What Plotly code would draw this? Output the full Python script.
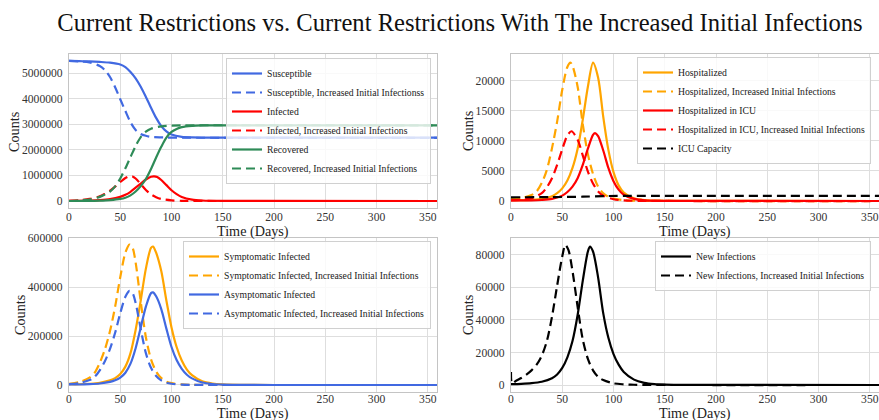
import plotly.graph_objects as go

# ---------------- data ----------------
TITLE = "Current Restrictions vs. Current Restrictions With The Increased Initial Infections"
X_TITLE = "Time (Days)"
Y_TITLE = "Counts"

# Panel 1: S, I, R (millions)
days_S1 = [0, 10, 20, 30, 40, 50, 55, 60, 65, 70, 75, 80, 85, 90, 95, 100, 110, 120, 150, 359]
S1 = [5.48, 5.47, 5.46, 5.44, 5.41, 5.34, 5.24, 5.05, 4.80, 4.47, 4.07, 3.65, 3.25, 2.93, 2.72, 2.60, 2.51, 2.49, 2.48, 2.48]
days_S2 = [0, 10, 20, 30, 35, 40, 45, 50, 55, 60, 65, 70, 75, 80, 90, 100, 359]
S2 = [5.48, 5.46, 5.42, 5.28, 5.12, 4.85, 4.45, 3.98, 3.52, 3.08, 2.78, 2.62, 2.55, 2.51, 2.49, 2.48, 2.47]
days_I1 = [0, 20, 30, 40, 50, 55, 60, 65, 70, 75, 80, 83, 86, 90, 95, 100, 105, 110, 120, 130, 150, 359]
I1 = [0.01, 0.02, 0.035, 0.07, 0.16, 0.24, 0.36, 0.52, 0.68, 0.84, 0.95, 0.965, 0.94, 0.82, 0.62, 0.42, 0.27, 0.16, 0.055, 0.02, 0.003, 0.0]
days_I2 = [0, 10, 20, 30, 35, 40, 45, 50, 55, 59, 62, 65, 70, 75, 80, 85, 90, 100, 110, 120, 359]
I2 = [0.01, 0.03, 0.08, 0.18, 0.28, 0.40, 0.56, 0.74, 0.90, 0.97, 0.96, 0.88, 0.66, 0.43, 0.26, 0.15, 0.08, 0.025, 0.008, 0.003, 0.0]
days_R1 = [0, 20, 30, 40, 50, 55, 60, 65, 70, 75, 80, 85, 90, 95, 100, 105, 110, 120, 130, 150, 359]
R1 = [0.0, 0.005, 0.015, 0.035, 0.08, 0.13, 0.22, 0.37, 0.58, 0.86, 1.25, 1.70, 2.12, 2.48, 2.70, 2.82, 2.89, 2.94, 2.955, 2.96, 2.96]
days_R2 = [0, 10, 20, 30, 35, 40, 45, 50, 55, 60, 65, 70, 75, 80, 90, 100, 120, 359]
R2 = [0.0, 0.02, 0.06, 0.16, 0.25, 0.37, 0.57, 0.88, 1.28, 1.72, 2.15, 2.50, 2.71, 2.83, 2.92, 2.95, 2.96, 2.96]

# Panel 2: hospital
days_H1 = [0, 10, 20, 30, 40, 45, 50, 55, 60, 65, 70, 75, 80, 85, 90, 95, 100, 105, 110, 120, 130, 150, 359]
H1 = [200, 150, 200, 350, 800, 1300, 2100, 3400, 5500, 8700, 13500, 19000, 23000, 20500, 14000, 8500, 4800, 2600, 1400, 450, 150, 30, 0]
days_H2 = [0, 10, 20, 25, 30, 35, 40, 45, 50, 55, 58, 60, 65, 70, 75, 80, 85, 90, 95, 100, 110, 120, 150, 359]
H2 = [300, 500, 1000, 1600, 3000, 5200, 8800, 13200, 18500, 22300, 23000, 22500, 19000, 12800, 7800, 4500, 2400, 1300, 700, 400, 150, 50, 10, 0]
days_C1 = [0, 20, 30, 40, 50, 55, 60, 65, 70, 75, 80, 82, 85, 90, 95, 100, 105, 110, 120, 130, 150, 359]
C1 = [100, 100, 170, 350, 900, 1500, 2400, 3800, 6000, 8700, 11000, 11300, 10800, 8400, 5500, 3300, 1900, 1050, 350, 120, 20, 0]
days_C2 = [0, 10, 20, 30, 35, 40, 45, 50, 55, 59, 65, 70, 75, 80, 85, 90, 100, 110, 120, 359]
C2 = [100, 200, 450, 1300, 2300, 3800, 6000, 8600, 10900, 11600, 10200, 7600, 4900, 2900, 1600, 900, 300, 100, 40, 0]
days_CAP = [0, 40, 70, 90, 110, 359]
CAP = [620, 650, 720, 820, 850, 850]

# Panel 3: symptomatic / asymptomatic
days_Y1 = [0, 10, 20, 30, 40, 45, 50, 55, 60, 65, 70, 75, 80, 82, 85, 90, 95, 100, 105, 110, 115, 120, 130, 140, 150, 175, 200, 359]
Y1 = [3000, 3000, 5000, 9000, 19000, 28000, 45000, 75000, 130000, 225000, 345000, 475000, 560000, 565000, 540000, 465000, 345000, 235000, 155000, 100000, 63000, 40000, 15000, 6000, 2500, 300, 50, 0]
days_Y2 = [0, 10, 20, 25, 30, 35, 40, 45, 50, 55, 59, 62, 65, 70, 75, 80, 85, 90, 95, 100, 110, 120, 130, 359]
Y2 = [5000, 12000, 30000, 50000, 90000, 145000, 220000, 320000, 440000, 540000, 573000, 560000, 500000, 340000, 195000, 105000, 55000, 28000, 14000, 7500, 2500, 800, 250, 0]
days_A1 = [0, 10, 20, 30, 40, 45, 50, 55, 60, 65, 70, 75, 80, 82, 85, 90, 95, 100, 105, 110, 115, 120, 130, 140, 150, 175, 200, 359]
A1 = [2000, 2000, 3300, 6000, 12500, 19000, 30000, 50000, 87000, 150000, 235000, 320000, 375000, 378000, 362000, 310000, 230000, 155000, 102000, 66000, 42000, 27000, 10000, 4000, 1700, 200, 30, 0]
days_A2 = [0, 10, 20, 25, 30, 35, 40, 45, 50, 55, 59, 62, 65, 70, 75, 80, 85, 90, 95, 100, 110, 120, 130, 359]
A2 = [3300, 8000, 20000, 33000, 60000, 97000, 147000, 213000, 293000, 360000, 384000, 375000, 335000, 228000, 130000, 70000, 37000, 19000, 9500, 5000, 1700, 550, 170, 0]

# Panel 4: new infections
days_N1 = [0, 10, 20, 30, 40, 45, 50, 55, 60, 65, 70, 75, 77, 80, 85, 90, 95, 100, 105, 110, 120, 130, 140, 150, 175, 359]
N1 = [500, 700, 1100, 2000, 4200, 6500, 10500, 17000, 27000, 43000, 64000, 82000, 85000, 82000, 66000, 44000, 29000, 19000, 12500, 8000, 3300, 1300, 500, 200, 30, 0]
days_N2 = [0, 1, 5, 10, 15, 20, 25, 30, 35, 40, 45, 50, 53, 56, 60, 65, 70, 75, 80, 85, 90, 100, 110, 120, 150, 359]
N2 = [8000, 1000, 2600, 4300, 6400, 9000, 12500, 18000, 27000, 42000, 61000, 79000, 86000, 83000, 70000, 48000, 28000, 16000, 9000, 5000, 3000, 1000, 400, 150, 20, 0]

x_ticks = [0, 50, 100, 150, 200, 250, 300, 350]
y_ticks_1 = [0, 1000000, 2000000, 3000000, 4000000, 5000000]
y_ticks_2 = [0, 5000, 10000, 15000, 20000]
y_ticks_3 = [0, 200000, 400000, 600000]
y_ticks_4 = [0, 20000, 40000, 60000, 80000]

# ---------------- styling ----------------
W, H = 879, 420
FONT = "Liberation Serif"
BLUE, RED, GREEN, ORANGE, BLACK = "#4169E1", "#FF0000", "#2E8B57", "#FFA500", "#000000"
DASH = "9px,5px"
LW = 2.2

fig = go.Figure()

def add(xs, ys, name, color, dashed, ax, legend, scale=1.0):
    fig.add_trace(go.Scatter(
        x=xs, y=[v * scale for v in ys], name=name, mode="lines",
        line=dict(color=color, width=LW, dash=DASH if dashed else "solid",
                  shape="spline", smoothing=0.8),
        xaxis="x" + ax, yaxis="y" + ax, legend=legend))

M = 1e6
add(days_S1, S1, "Susceptible", BLUE, False, "", "legend", M)
add(days_S2, S2, "Susceptible, Increased Initial Infectionss", BLUE, True, "", "legend", M)
add(days_I1, I1, "Infected", RED, False, "", "legend", M)
add(days_I2, I2, "Infected, Increased Initial Infections", RED, True, "", "legend", M)
add(days_R1, R1, "Recovered", GREEN, False, "", "legend", M)
add(days_R2, R2, "Recovered, Increased Initial Infections", GREEN, True, "", "legend", M)

add(days_H1, H1, "Hospitalized", ORANGE, False, "2", "legend2")
add(days_H2, H2, "Hospitalized, Increased Initial Infections", ORANGE, True, "2", "legend2")
add(days_C1, C1, "Hospitalized in ICU", RED, False, "2", "legend2")
add(days_C2, C2, "Hospitalized in ICU, Increased Initial Infections", RED, True, "2", "legend2")
add(days_CAP, CAP, "ICU Capacity", BLACK, True, "2", "legend2")

add(days_Y1, Y1, "Symptomatic Infected", ORANGE, False, "3", "legend3")
add(days_Y2, Y2, "Symptomatic Infected, Increased Initial Infections", ORANGE, True, "3", "legend3")
add(days_A1, A1, "Asymptomatic Infected", BLUE, False, "3", "legend3")
add(days_A2, A2, "Asymptomatic Infected, Increased Initial Infections", BLUE, True, "3", "legend3")

add(days_N1, N1, "New Infections", BLACK, False, "4", "legend4")
add(days_N2, N2, "New Infections, Increased Initial Infections", BLACK, True, "4", "legend4")

FRAME = "#c4c4c4"
GRID = "#dedede"
TICKF = dict(family=FONT, size=11.6, color="#333333")
TITLEF = dict(family=FONT, size=14.2, color="#222222")

def px_x(a, b):
    return [a / W, b / W]

def px_y(top, bottom):
    return [1 - bottom / H, 1 - top / H]

def xaxis(dom, anchor, standoff):
    return dict(domain=dom, anchor=anchor, range=[0, 359], tickvals=x_ticks,
                showgrid=True, gridcolor=GRID, gridwidth=1, zeroline=False,
                showline=True, linecolor=FRAME, linewidth=1.2, mirror=True,
                ticks="", tickfont=TICKF, ticklabelstandoff=standoff, automargin=False,
                ticklabeloverflow="allow")

def yaxis(dom, anchor, rng, tv):
    return dict(domain=dom, anchor=anchor, range=rng, tickvals=tv,
                tickformat="d", showgrid=True, gridcolor=GRID, gridwidth=1,
                zeroline=False, showline=True, linecolor=FRAME, linewidth=1.2,
                mirror=True, ticks="", tickfont=TICKF, ticklabelstandoff=3,
                automargin=False)

LX = px_x(69, 437)
RX = px_x(511, 879)
TY = px_y(54, 208)
BY = px_y(238, 392)

def legend(x, y):
    return dict(x=x / W, y=1 - y / H, xanchor="left", yanchor="top",
                bgcolor="rgba(255,255,255,0.8)", bordercolor="#d0d0d0", borderwidth=1,
                font=dict(family=FONT, size=9.7, color="#222222"),
                tracegroupgap=0, itemwidth=30)

def label(text, x, y, angle=0):
    return dict(text=text, x=x / W, y=1 - y / H, xref="paper", yref="paper",
                xanchor="center", yanchor="middle", showarrow=False,
                textangle=angle, font=TITLEF)

annotations = [
    label(X_TITLE, 253, 231), label(X_TITLE, 695, 231),
    label(X_TITLE, 253, 413), label(X_TITLE, 695, 413),
    label(Y_TITLE, 14, 131, -90), label(Y_TITLE, 468, 131, -90),
    label(Y_TITLE, 20, 315, -90), label(Y_TITLE, 468, 315, -90),
]

fig.update_layout(
    width=W, height=H, margin=dict(l=0, r=0, t=0, b=0, autoexpand=False),
    paper_bgcolor="white", plot_bgcolor="white",
    title=dict(text=TITLE, x=460 / W, xanchor="center", y=1 - 22 / H, yanchor="middle",
               font=dict(family=FONT, size=24.6, color="#111111")),
    xaxis=xaxis(LX, "y", -2), yaxis=yaxis(TY, "x", [-274000, 5750000], y_ticks_1),
    xaxis2=xaxis(RX, "y2", -2), yaxis2=yaxis(TY, "x2", [-1160, 24450], y_ticks_2),
    xaxis3=xaxis(LX, "y3", -4), yaxis3=yaxis(BY, "x3", [-28600, 600000], y_ticks_3),
    xaxis4=xaxis(RX, "y4", -4), yaxis4=yaxis(BY, "x4", [-4300, 90300], y_ticks_4),
    legend=legend(226, 58), legend2=legend(637, 57),
    legend3=legend(183, 241), legend4=legend(655, 241),
    annotations=annotations,
)

fig.write_html("out.html", config={"displayModeBar": False},
               post_script="document.body.style.margin='0';")
